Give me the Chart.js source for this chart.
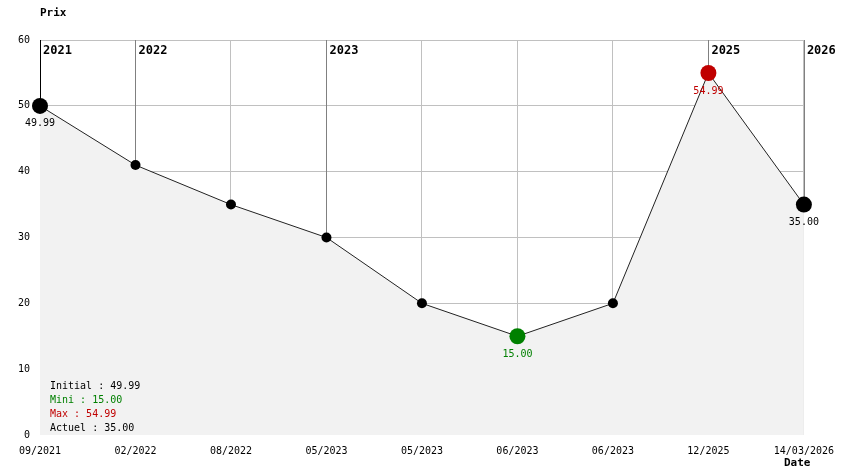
<!DOCTYPE html>
<html>
<head>
<meta charset="utf-8">
<script src="https://cdn.jsdelivr.net/npm/chart.js@4/dist/chart.umd.min.js"></script>
<style>
  html, body { margin: 0; padding: 0; background: #fff; }
  #wrap { width: 844px; height: 474px; }
</style>
</head>
<body>
<div id="wrap"><canvas id="prixChart" width="844" height="474"></canvas></div>
<script>
// price history
const dateLabels = ['09/2021', '02/2022', '08/2022', '05/2023', '05/2023', '06/2023', '06/2023', '12/2025', '14/03/2026'];
const prices = [49.99, 41, 35, 30, 20, 15, 20, 54.99, 35];

// year markers (index of the point where a new year starts)
const yearIndex = [0, 1, 3, 7, 8];
const yearLabels = ['2021', '2022', '2023', '2025', '2026'];

// summary box
const summaryLabels = ['Initial', 'Mini', 'Max', 'Actuel'];
const summaryValues = [49.99, 15.00, 54.99, 35.00];

const GREEN = '#008000';
const RED = '#c00000';
const MONO = '"DejaVu Sans Mono", monospace';

const minIdx = prices.indexOf(Math.min(...prices));
const maxIdx = prices.indexOf(Math.max(...prices));
const lastIdx = prices.length - 1;
const isBig = i => i === 0 || i === lastIdx || i === minIdx || i === maxIdx;
const pointColor = i => i === minIdx ? GREEN : (i === maxIdx ? RED : '#000');

const extras = {
    id: 'extras',
    beforeDatasetsDraw(chart) {
        // vertical year lines, from the top down to the point
        const { ctx, chartArea } = chart;
        const x = chart.scales.x, y = chart.scales.y;
        ctx.save();
        ctx.lineWidth = 1;
        yearIndex.forEach((idx, k) => {
            const px = Math.round(x.getPixelForValue(idx)) + 0.5;
            ctx.strokeStyle = k === 0 ? '#000' : '#808080';
            ctx.beginPath();
            ctx.moveTo(px, chartArea.top);
            ctx.lineTo(px, y.getPixelForValue(prices[idx]));
            ctx.stroke();
        });
        ctx.restore();
    },
    afterDatasetsDraw(chart) {
        const { ctx, chartArea } = chart;
        const x = chart.scales.x, y = chart.scales.y;
        ctx.save();
        // year labels
        ctx.font = 'bold 12px ' + MONO;
        ctx.fillStyle = '#000';
        ctx.textAlign = 'left';
        ctx.textBaseline = 'middle';
        yearIndex.forEach((idx, k) => {
            ctx.fillText(yearLabels[k], x.getPixelForValue(idx) + 3, chartArea.top + 11);
        });
        // value labels under the notable points
        ctx.font = '10px ' + MONO;
        ctx.textAlign = 'center';
        prices.forEach((v, i) => {
            if (!isBig(i)) return;
            ctx.fillStyle = pointColor(i);
            ctx.fillText(v.toFixed(2), x.getPixelForValue(i), y.getPixelForValue(v) + 18);
        });
        // summary box
        ctx.textAlign = 'left';
        const colors = ['#000', GREEN, RED, '#000'];
        summaryLabels.forEach((lab, k) => {
            ctx.fillStyle = colors[k];
            ctx.fillText(lab + ' : ' + summaryValues[k].toFixed(2), chartArea.left + 10, chartArea.bottom - 49 + k * 14);
        });
        // axis titles
        ctx.font = 'bold 11px ' + MONO;
        ctx.fillStyle = '#000';
        ctx.fillText('Prix', chartArea.left, 13);
        ctx.fillText('Date', chartArea.right - 20, chartArea.bottom + 28);
        ctx.restore();
    }
};

new Chart(document.getElementById('prixChart'), {
    type: 'line',
    data: {
        labels: dateLabels,
        datasets: [{
            data: prices,
            borderColor: '#222',
            borderWidth: 1,
            backgroundColor: '#f2f2f2',
            fill: 'origin',
            tension: 0,
            clip: false,
            pointRadius: prices.map((v, i) => isBig(i) ? 8 : 5),
            pointBackgroundColor: prices.map((v, i) => pointColor(i)),
            pointBorderColor: prices.map((v, i) => pointColor(i)),
            pointBorderWidth: 0
        }]
    },
    options: {
        responsive: false,
        animation: false,
        layout: { padding: { top: 40, right: 40, left: 0, bottom: 0 } },
        plugins: {
            legend: { display: false },
            tooltip: { enabled: false }
        },
        scales: {
            x: {
                offset: false,
                border: { display: false },
                grid: { color: '#c0c0c0', drawTicks: false },
                ticks: {
                    color: '#000',
                    font: { family: MONO, size: 10 },
                    padding: 10,
                    maxRotation: 0,
                    autoSkip: false
                },
                afterFit(scale) { scale.height = 39; }
            },
            y: {
                min: 0,
                max: 60,
                border: { display: false },
                grid: {
                    color: c => (c.tick && c.tick.value === 0) ? 'rgba(0,0,0,0)' : '#c0c0c0',
                    drawTicks: false
                },
                ticks: {
                    stepSize: 10,
                    color: '#000',
                    font: { family: MONO, size: 10 },
                    padding: 10
                },
                afterFit(scale) { scale.width = 40; }
            }
        }
    },
    plugins: [extras]
});
</script>
</body>
</html>
